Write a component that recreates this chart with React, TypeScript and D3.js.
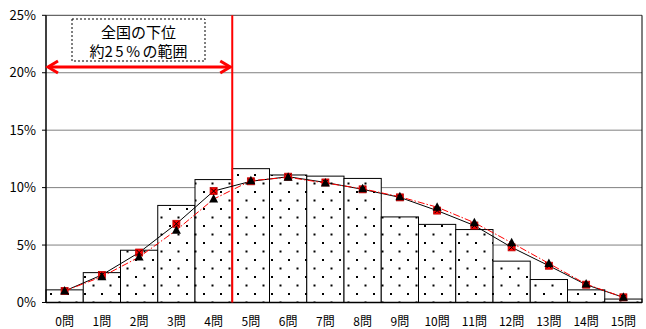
import React from "react";
import * as d3 from "d3";

const categories = ["0問","1問","2問","3問","4問","5問","6問","7問","8問","9問","10問","11問","12問","13問","14問","15問"];
const barValues = [1.1, 2.6, 4.55, 8.45, 10.7, 11.65, 11.1, 11.0, 10.8, 7.45, 6.8, 6.35, 3.6, 2.0, 1.1, 0.3];
const squareSeries = [1.0, 2.4, 4.35, 6.85, 9.7, 10.55, 10.95, 10.45, 9.85, 9.15, 8.0, 6.7, 4.8, 3.2, 1.55, 0.45];
const triangleSeries = [1.0, 2.25, 3.95, 6.3, 9.0, 10.6, 10.9, 10.4, 9.9, 9.2, 8.3, 6.95, 5.2, 3.4, 1.6, 0.45];
const yTicks = [0, 5, 10, 15, 20, 25];
const annotationLine1 = "全国の下位";
const annotationLine2 = ["約", "25%", "の範囲"];
const markerCategory = "4問";

const W = 646, H = 329;
const FONT = "'Noto Sans CJK JP', 'Noto Sans', sans-serif";

export default function App() {
  const x = d3.scaleBand<string>().domain(categories).range([46, 642]).padding(0);
  const y = d3.scaleLinear().domain([0, 25]).range([302.5, 15.3]);
  const cx = (c: string) => (x(c) as number) + x.bandwidth() / 2;
  const line = d3.line<number>().x((_, i) => cx(categories[i])).y(d => y(d));
  const redX = (x(markerCategory) as number) + x.bandwidth();
  const arrowY = 67;
  const left = 46, right = 642;

  return (
    <svg width={W} height={H} style={{ position: "absolute", left: 0, top: 0, background: "#fff" }} fontFamily={FONT}>
      <defs>
        <pattern id="dots" patternUnits="userSpaceOnUse" width={17} height={17} x={left} y={0}>
          <rect width={17} height={17} fill="#fff" />
          <rect x={4} y={4} width={2} height={2} fill="#000" />
          <rect x={12.5} y={12.5} width={2} height={2} fill="#000" />
        </pattern>
      </defs>
      {yTicks.filter(t => t > 0 && t < 25).map(t => (
        <line key={t} x1={left} x2={right} y1={y(t)} y2={y(t)} stroke="#808080" strokeWidth={1} />
      ))}
      {categories.map((c, i) => (
        <rect key={c} x={x(c) as number} y={y(barValues[i])} width={x.bandwidth()} height={y(0) - y(barValues[i])}
          fill="url(#dots)" stroke="#000" strokeWidth={1} />
      ))}
      <line x1={left} x2={right} y1={y(25)} y2={y(25)} stroke="#404040" strokeWidth={1} />
      <line x1={right} x2={right} y1={y(25)} y2={y(0)} stroke="#000" strokeWidth={1} />
      <line x1={left} x2={left} y1={y(25)} y2={y(0)} stroke="#000" strokeWidth={1.5} />
      <line x1={left} x2={right} y1={y(0)} y2={y(0)} stroke="#000" strokeWidth={1.5} />
      {yTicks.map(t => (
        <line key={"tk" + t} x1={left - 4} x2={left} y1={y(t)} y2={y(t)} stroke="#000" strokeWidth={1} />
      ))}
      {yTicks.map(t => (
        <text key={"yl" + t} x={36} y={y(t)} dy="0.35em" textAnchor="end" fontSize={13} fill="#000">{t}%</text>
      ))}
      {categories.map(c => (
        <text key={"xl" + c} x={cx(c)} y={322} dy="0.35em" textAnchor="middle" fontSize={12} fill="#000">{c}</text>
      ))}
      <line x1={redX} x2={redX} y1={y(25)} y2={y(0)} stroke="#ff0000" strokeWidth={2} />
      <path d={line(squareSeries) as string} fill="none" stroke="#000" strokeWidth={1} />
      <path d={line(triangleSeries) as string} fill="none" stroke="#ff0000" strokeWidth={1} strokeDasharray="7,2,1.5,2" />
      {squareSeries.map((v, i) => {
        const px = cx(categories[i]), py = y(v), s = 3.5;
        return (
          <g key={"sq" + i}>
            <rect x={px - s} y={py - s} width={2 * s} height={2 * s} fill="#ff0000" stroke="#c00000" strokeWidth={0.8} />
            <line x1={px - s + 1} y1={py - s + 1} x2={px + s - 1} y2={py + s - 1} stroke="#000" strokeWidth={1} />
            <line x1={px - s + 1} y1={py + s - 1} x2={px + s - 1} y2={py - s + 1} stroke="#000" strokeWidth={1} />
          </g>
        );
      })}
      {triangleSeries.map((v, i) => {
        const px = cx(categories[i]), py = y(v);
        return <path key={"tr" + i} d={`M${px},${py - 5}L${px + 4.5},${py + 3.5}L${px - 4.5},${py + 3.5}Z`} fill="#000" />;
      })}
      <rect x={72} y={19} width={133} height={42} fill="#fff" stroke="#000" strokeWidth={1} strokeDasharray="2,2" />
      <text x={138.5} y={33} dy="0.35em" textAnchor="middle" fontSize={15} fill="#000">{annotationLine1}</text>
      <text x={138.5} y={52} dy="0.35em" textAnchor="middle" fontSize={15} fill="#000">
        <tspan>{annotationLine2[0]}</tspan>
        <tspan letterSpacing={2.5}>{annotationLine2[1]}</tspan>
        <tspan>{annotationLine2[2]}</tspan>
      </text>
      <line x1={left + 2} x2={redX - 2} y1={arrowY} y2={arrowY} stroke="#ff0000" strokeWidth={3} />
      <polyline points={`${left + 12},${arrowY - 6} ${left + 2},${arrowY} ${left + 12},${arrowY + 6}`} fill="none" stroke="#ff0000" strokeWidth={3} strokeLinejoin="miter" />
      <polyline points={`${redX - 12},${arrowY - 6} ${redX - 2},${arrowY} ${redX - 12},${arrowY + 6}`} fill="none" stroke="#ff0000" strokeWidth={3} strokeLinejoin="miter" />
    </svg>
  );
}
